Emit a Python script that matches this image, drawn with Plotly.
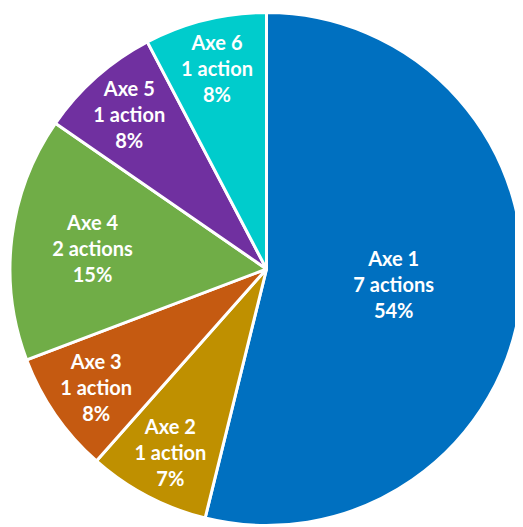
import plotly.graph_objects as go

categories = ["Axe 1", "Axe 2", "Axe 3", "Axe 4", "Axe 5", "Axe 6"]
actions = [7, 1, 1, 2, 1, 1]
action_labels = ["7 actions", "1 action", "1 action", "2 actions", "1 action", "1 action"]
percent_labels = ["54%", "7%", "8%", "15%", "8%", "8%"]
colors = ["#0070C0", "#BF9000", "#C55A11", "#70AD47", "#7030A0", "#00CCCC"]

text = [f"<b>{c}<br>{a}<br>{p}</b>" for c, a, p in zip(categories, action_labels, percent_labels)]

fig = go.Figure(go.Pie(
    labels=categories,
    values=actions,
    text=text,
    textinfo="text",
    textposition="inside",
    insidetextorientation="horizontal",
    sort=False,
    direction="clockwise",
    rotation=0,
    marker=dict(colors=colors, line=dict(color="white", width=3)),
    textfont=dict(family="Lato", size=20, color="white"),
    showlegend=False,
    hoverinfo="label+value",
))

fig.update_layout(
    width=515, height=519,
    margin=dict(l=2, r=0, t=3, b=0),
    paper_bgcolor="white",
    plot_bgcolor="white",
    uniformtext=dict(minsize=19, mode="show"),
)

fig.write_html("out.html")
